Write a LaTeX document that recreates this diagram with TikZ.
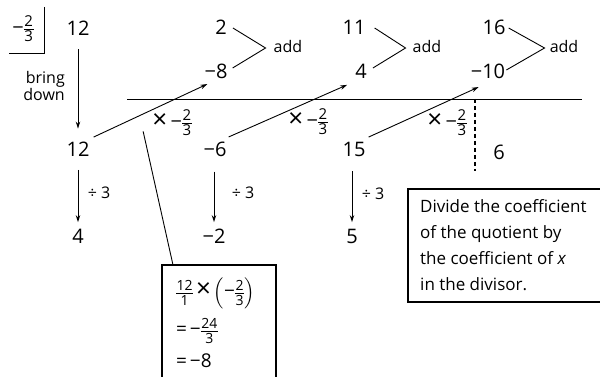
\documentclass[tikz,border=0pt]{standalone}
\usepackage{amsmath}
\usepackage{fontspec}
\setmainfont{Open Sans}
\usetikzlibrary{arrows.meta}
% fraction with text-font digits at a fixed size
\newcommand{\fr}[3]{\ensuremath{\vcenter{\fontsize{#1}{#1}\selectfont\offinterlineskip
  \halign{\hfil\kern0.5pt##\kern0.5pt\hfil\cr #2\cr\noalign{\kern1.8pt\hrule height0.8pt\kern1.8pt}#3\cr}}}}
\newcommand{\mn}{\text{−}}
\newcommand{\tms}{\text{\fontsize{26}{26}\selectfont ×}}
\begin{document}
\begin{tikzpicture}[x=1pt,y=-1pt,
  num/.style={inner sep=0pt, font=\fontsize{20}{24}\selectfont},
  lab/.style={inner sep=0pt, font=\fontsize{16}{17}\selectfont},
  arr/.style={-{Stealth[length=7pt,width=4.5pt]}, line width=0.9pt},
  ln/.style={line width=0.9pt},
  boxln/.style={line width=1.4pt}]
\useasboundingbox (0,0) rectangle (600,377);
\clip (0,0) rectangle (600,377);

% divisor
\node[num] (div) at (23,29) {\(\mn\fr{15}{2}{3}\)};
\draw[ln] (44,7) -- (44,53) -- (9,53);
\node[lab, align=right, anchor=east] (bring) at (65,86) {bring\\down};

% top row
\node[num] (t12) at (78,28) {12};
\node[num] (two) at (221,27) {2};
\node[num] (eleven) at (354,27) {11};
\node[num] (sixteen) at (494,27) {16};

% second row
\node[num] (m8) at (216,71) {−8};
\node[num] (four) at (361,71) {4};
\node[num] (m10) at (488,71) {−10};

% add labels
\node[lab] (add1) at (288,47) {add};
\node[lab] (add2) at (427,47) {add};
\node[lab] (add3) at (564,47) {add};

% horizontal rule
\coordinate (hl1) at (127,99);
\coordinate (hl2) at (582,99);
\draw[ln] (hl1) -- (hl2);

% result row
\node[num] (b12) at (78,149) {12};
\node[num] (m6) at (215,149) {−6};
\node[num] (f15) at (354,149) {15};
\node[num] (six) at (499,152) {6};

% multiply labels
\node[num] (x1) at (172,123) {\(\tms\,\mn\fr{15}{2}{3}\)};
\node[num] (x2) at (308,122) {\(\tms\,\mn\fr{15}{2}{3}\)};
\node[num] (x3) at (447,123) {\(\tms\,\mn\fr{15}{2}{3}\)};

% quotient row
\node[num] (q4) at (78,236) {4};
\node[num] (qm2) at (214,236) {−2};
\node[num] (q5) at (352,236) {5};
\node[lab] (d1) at (99,193) {÷ 3};
\node[lab] (d2) at (243,193) {÷ 3};
\node[lab] (d3) at (373,194) {÷ 3};

% bring down arrow
\draw[arr, shorten <=14pt, shorten >=13pt] (t12) -- (b12);

% diagonal arrows
\draw[arr] ([xshift=4pt,yshift=4.5pt]b12.north east) -- ([xshift=3pt,yshift=-5.5pt]m8.south west);
\draw[arr] ([xshift=2pt,yshift=4.5pt]m6.north east) -- ([xshift=-8pt,yshift=-6.5pt]four.south west);
\draw[arr] ([xshift=3pt,yshift=4.5pt]f15.north east) -- ([xshift=8pt,yshift=-8.5pt]m10.south west);

% add brackets
\draw[ln] ([xshift=6pt,yshift=-1pt]two.east) -- ([xshift=-8pt,yshift=-1pt]add1.west) -- ([xshift=5pt,yshift=3pt]m8.east);
\draw[ln] ([xshift=9pt,yshift=-1pt]eleven.east) -- ([xshift=-7pt,yshift=-1pt]add2.west) -- ([xshift=6pt,yshift=3pt]four.east);
\draw[ln] ([xshift=3pt,yshift=-1pt]sixteen.east) -- ([xshift=-5pt,yshift=-1pt]add3.west) -- ([xshift=1pt,yshift=1pt]m10.east);

% divide arrows
\draw[arr, shorten <=13.5pt, shorten >=6.5pt] (b12) -- (q4);
\draw[arr, shorten <=15pt, shorten >=6.5pt] (m6.south -| qm2) -- (qm2);
\draw[arr, shorten <=15pt, shorten >=6.5pt] (f15.south -| q5) -- (q5);

% dashed remainder line
\coordinate (dash1) at (475,99);
\coordinate (dash2) at (475,171);
\draw[line width=1.3pt, dash pattern=on 4pt off 3pt] (dash1) -- (dash2);

% formula box
\coordinate (ftop) at (173,265);
\draw[boxln] (162,390) -- (162,265) -- (276,265) -- (276,390);
\node[inner sep=0pt, anchor=west, font=\fontsize{19}{20}\selectfont] (fl1) at (176,293) {\(\fr{14}{12}{1}\,\tms\left(\mn\fr{14}{2}{3}\right)\)};
\node[inner sep=0pt, anchor=west, font=\fontsize{19}{20}\selectfont] (fl2) at (176,331) {\(\text{=}\,\mn\fr{14}{24}{3}\)};
\node[inner sep=0pt, anchor=west, font=\fontsize{19}{20}\selectfont] (fl3) at (176,361) {\(\text{=}\,\mn\text{8}\)};
\draw[ln] ([xshift=-9pt,yshift=5pt]x1.south west) -- (ftop);

% explanation box
\draw[boxln] (620,189) -- (408,189) -- (408,302) -- (620,302);
\node[inner sep=0pt, anchor=north west, align=left, font=\fontsize{17}{26}\selectfont] (expl) at (420,199)
  {Divide the coefficient\\of the quotient by\\the coefficient of \textit{x}\\in the divisor.};
\end{tikzpicture}
\end{document}
